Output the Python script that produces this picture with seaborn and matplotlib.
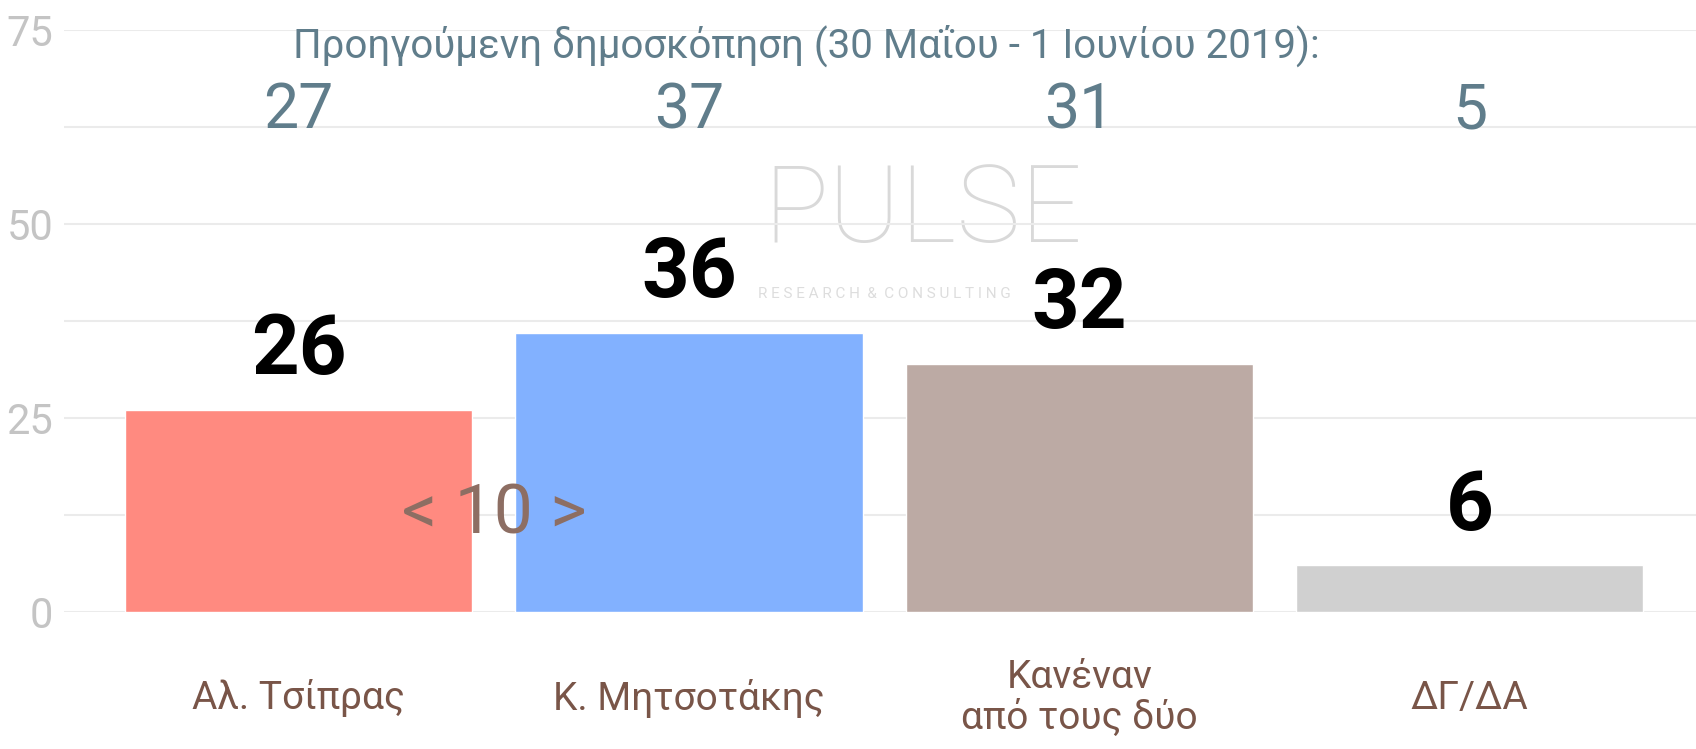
import numpy as np
import pandas as pd
import seaborn as sns
import matplotlib.pyplot as plt

categories = ["Αλ. Τσίπρας", "Κ. Μητσοτάκης", "Κανέναν\nαπό τους δύο", "ΔΓ/ΔΑ"]
values = [26, 36, 32, 6]
previous = [27, 37, 31, 5]
colors = ["#FF8A80", "#82B1FF", "#BCAAA4", "#D0D0D0"]
prev_title = "Προηγούμενη δημοσκόπηση (30 Μαΐου - 1 Ιουνίου 2019):"
gap_label = "< 10 >"

sns.set_theme(style="white")
plt.rcParams['font.family'] = ['Roboto', 'DejaVu Sans']

df = pd.DataFrame({"who": categories, "pct": values})

fig = plt.figure(figsize=(16.96, 7.49), dpi=100)
ax = fig.add_axes([0.038, 0.183, 0.962, 0.777])

sns.barplot(data=df, x="who", y="pct", hue="who", palette=colors,
            width=0.89, legend=False, ax=ax, saturation=1)

ax.set_ylim(0, 75)
ax.set_xlim(-0.6, 3.58)
ax.set_yticks([0, 25, 50, 75])
ax.set_yticks([12.5, 37.5, 62.5], minor=True)
ax.grid(True, which="both", axis="y", color="#EBEBEB", lw=1.5)
ax.set_axisbelow(True)
for s in ax.spines.values():
    s.set_visible(False)
ax.set_xlabel("")
ax.set_ylabel("")
ax.tick_params(axis="y", which="both", length=0, pad=8, labelsize=30, labelcolor="#C4C4C4")
ax.tick_params(axis="x", length=0, pad=62)
ax.set_xticks(range(len(categories)))
ax.set_xticklabels(categories, fontsize=28, color="#795548", va="center", linespacing=1.1)

# watermark
ax.text(1.6, 51.5, "PULSE", ha="center", va="center", fontsize=78,
        fontweight="light", color="#D9D9D9", zorder=0)
ax.text(1.5, 41, "R E S E A R C H  &  C O N S U L T I N G", ha="center", va="center",
        fontsize=11, color="#DDDDDD", zorder=0)

for b, v in zip(ax.patches, values):
    ax.text(b.get_x() + b.get_width() / 2, v + 7.5, str(v), ha="center", va="center",
            fontsize=60, fontweight="bold", color="black", zorder=5)

ax.text(1.3, 73, prev_title, ha="center", va="center", fontsize=29, color="#607D8B")
for i, p in enumerate(previous):
    ax.text(i, 64.5, str(p), ha="center", va="center", fontsize=45, color="#607D8B")

ax.text(0.5, 12.5, gap_label, ha="center", va="center", fontsize=50, color="#8D6E63")

fig.savefig("out.png", dpi=100)
